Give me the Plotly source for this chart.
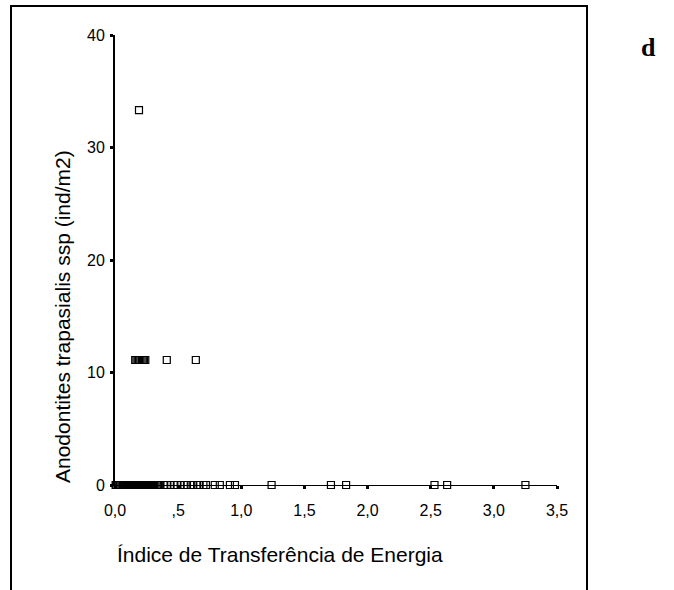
import plotly.graph_objects as go

# ---- data ----
x_zero = [0.005, 0.01, 0.02, 0.03, 0.04, 0.05, 0.06, 0.07, 0.08, 0.09, 0.10,
          0.105, 0.11, 0.115, 0.12, 0.125, 0.13, 0.135, 0.14, 0.145, 0.15,
          0.155, 0.16, 0.165, 0.17, 0.175, 0.18, 0.185, 0.19, 0.195, 0.20,
          0.205, 0.21, 0.215, 0.22, 0.225, 0.23, 0.235, 0.24, 0.245, 0.25,
          0.255, 0.26, 0.265, 0.27, 0.275, 0.28, 0.29, 0.30, 0.31, 0.32, 0.33,
          0.34, 0.35, 0.36,
          0.39, 0.41, 0.44, 0.47, 0.49, 0.52, 0.55, 0.57, 0.60, 0.62, 0.65, 0.67,
          0.70, 0.72,
          0.79, 0.83, 0.91, 0.95, 1.24, 1.71, 1.83, 2.53, 2.63, 3.25]
y_zero = [0.0] * len(x_zero)

x_eleven = [0.16, 0.17, 0.18, 0.19, 0.20, 0.21, 0.22, 0.23, 0.24, 0.41, 0.64]
y_eleven = [11.11] * len(x_eleven)

x_high = [0.19]
y_high = [33.33]

x_tickvals = [0.0, 0.5, 1.0, 1.5, 2.0, 2.5, 3.0, 3.5]
x_ticktext = ["0,0", ",5", "1,0", "1,5", "2,0", "2,5", "3,0", "3,5"]
y_tickvals = [0, 10, 20, 30, 40]
y_ticktext = ["0", "10", "20", "30", "40"]

x_title = "Índice de Transferência de Energia"
y_title = "Anodontites trapasialis ssp (ind/m2)"
panel_label = "d"

# ---- layout geometry (pixels) ----
W, H = 674, 590
PL, PR, PT, PB = 115, 557, 35, 485   # plot area edges


def px_to_paper_x(px):
    return (px - PL) / (PR - PL)


def px_to_paper_y(py):
    return (PB - py) / (PB - PT)


xs = x_zero + x_eleven + x_high
ys = y_zero + y_eleven + y_high

fig = go.Figure()
fig.add_trace(go.Scatter(
    x=xs, y=ys, mode="markers", cliponaxis=False,
    marker=dict(symbol="square-open", size=7, color="black",
                line=dict(width=1.2, color="black")),
    showlegend=False, hoverinfo="x+y"))

font_family = "Liberation Sans, Arial, sans-serif"

fig.update_layout(
    width=W, height=H, autosize=False,
    margin=dict(l=PL, r=W - PR, t=PT, b=H - PB, pad=0),
    paper_bgcolor="white", plot_bgcolor="white",
    font=dict(family=font_family, size=16, color="black"),
    xaxis=dict(range=[0, 3.5], tickvals=x_tickvals, ticktext=x_ticktext,
               showgrid=False, zeroline=False, showline=True, linecolor="black",
               linewidth=1, ticks="outside", ticklen=3, tickwidth=3,
               tickcolor="black", tickfont=dict(size=16), ticklabelstandoff=8),
    yaxis=dict(range=[0, 40], tickvals=y_tickvals, ticktext=y_ticktext,
               showgrid=False, zeroline=False, showline=True, linecolor="black",
               linewidth=2, ticks="outside", ticklen=3, tickwidth=3,
               tickcolor="black", tickfont=dict(size=16), ticklabelstandoff=2),
    shapes=[dict(type="rect", xref="paper", yref="paper",
                 x0=px_to_paper_x(11), x1=px_to_paper_x(587),
                 y0=px_to_paper_y(600), y1=px_to_paper_y(6),
                 line=dict(color="black", width=2), fillcolor="rgba(0,0,0,0)",
                 layer="below")],
    annotations=[
        dict(text=x_title, xref="paper", yref="paper",
             x=px_to_paper_x(115), y=px_to_paper_y(554),
             xanchor="left", yanchor="middle", showarrow=False,
             font=dict(family=font_family, size=21, color="black")),
        dict(text=y_title, xref="paper", yref="paper",
             x=px_to_paper_x(62), y=px_to_paper_y(317),
             xanchor="center", yanchor="middle", showarrow=False, textangle=-90,
             font=dict(family=font_family, size=21, color="black")),
        dict(text="<b>" + panel_label + "</b>", xref="paper", yref="paper",
             x=px_to_paper_x(648), y=px_to_paper_y(48),
             xanchor="center", yanchor="middle", showarrow=False,
             font=dict(family="Liberation Serif, Times New Roman, serif",
                       size=26, color="black")),
    ],
)

fig.write_html("out.html")
